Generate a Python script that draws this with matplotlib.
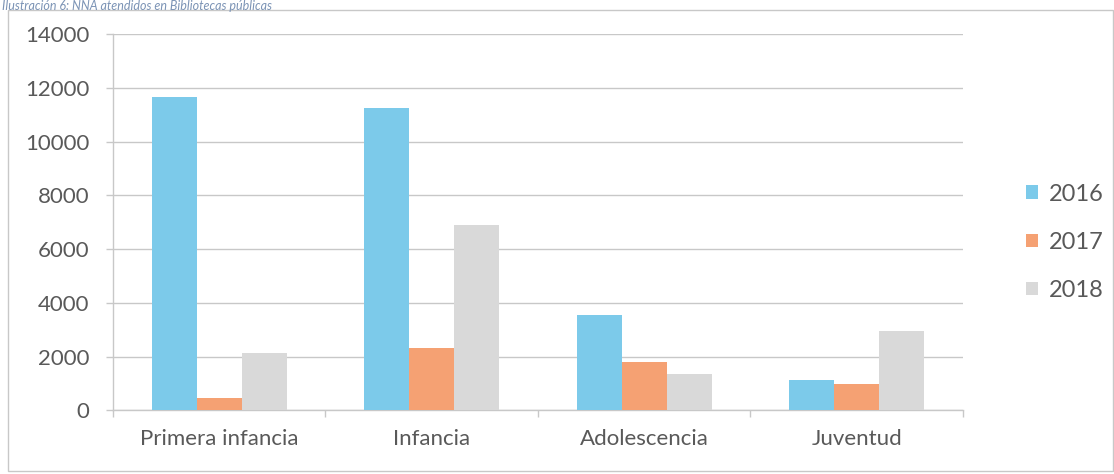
import numpy as np
import matplotlib.pyplot as plt
from matplotlib.patches import Rectangle

categories = ['Primera infancia', 'Infancia', 'Adolescencia', 'Juventud']
years = ['2016', '2017', '2018']
v2016 = [11650, 11250, 3540, 1150]
v2017 = [470, 2330, 1800, 980]
v2018 = [2130, 6900, 1360, 2950]
colors = ['#7ccaea', '#f5a173', '#d9d9d9']

plt.rcParams['font.family'] = ['Lato', 'DejaVu Sans']
txt = '#595959'
grid = '#c8c8c8'

fig = plt.figure(figsize=(11.14, 4.74), dpi=100)
ax = fig.add_axes([0.1014, 0.134, 0.763, 0.794])

x = np.arange(len(categories))
w = 0.212
for i, (vals, yr) in enumerate(zip([v2016, v2017, v2018], years)):
    ax.bar(x + (i - 1) * w, vals, width=w, color=colors[i], label=yr, zorder=3)

ax.set_xlim(-0.5, 3.5)
ax.set_ylim(0, 14000)
ax.set_yticks(np.arange(0, 14001, 2000))
ax.yaxis.grid(True, color=grid, linewidth=1, zorder=0)

# category labels on minor ticks, boundary ticks as major
ax.set_xticks(np.arange(-0.5, 4, 1))
ax.set_xticklabels([])
ax.set_xticks(x, minor=True)
ax.set_xticklabels(categories, minor=True)
ax.tick_params(axis='x', which='major', length=5, color=grid, width=1)
ax.tick_params(axis='x', which='minor', length=0, pad=13, labelsize=16, labelcolor=txt)
ax.tick_params(axis='y', length=5, color=grid, width=1, pad=12, labelsize=16, labelcolor=txt)

for s in ['top', 'right']:
    ax.spines[s].set_visible(False)
for s in ['left', 'bottom']:
    ax.spines[s].set_color(grid)
    ax.spines[s].set_linewidth(1)

leg = ax.legend(loc='center left', bbox_to_anchor=(1.055, 0.447), frameon=False,
                fontsize=17, handlelength=0.5, handleheight=0.5,
                handletextpad=0.45, labelspacing=1.15, borderpad=0.2)
for t in leg.get_texts():
    t.set_color(txt)

# outer chart frame
fig.patches.append(Rectangle((0.007, 0.006), 0.992, 0.972, transform=fig.transFigure,
                             fill=False, edgecolor='#c8c8c8', linewidth=1))

# caption above the chart frame
fig.text(0.002, 0.999, 'Ilustración 6: NNA atendidos en Bibliotecas públicas',
         ha='left', va='top', fontsize=9, style='italic', color='#7b93b5')

fig.savefig('out.png', dpi=100)
